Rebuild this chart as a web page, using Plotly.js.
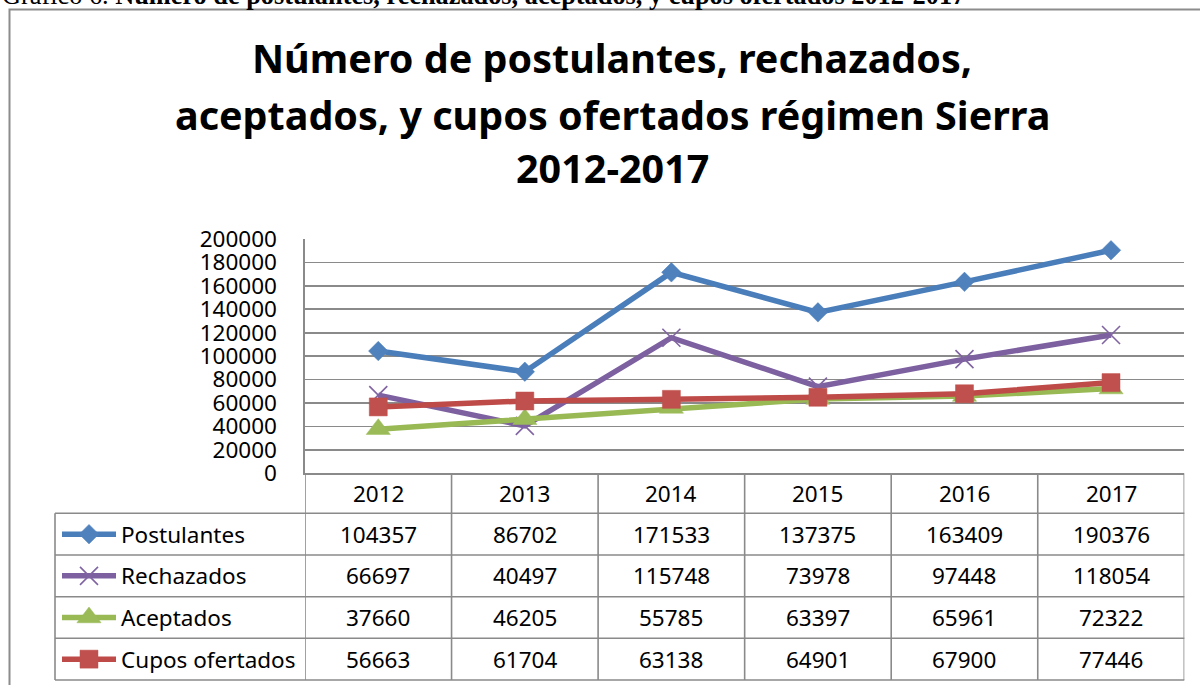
<!DOCTYPE html>
<html>
<head>
<meta charset="utf-8">
<script src="https://cdn.plot.ly/plotly-3.0.1.min.js"></script>
<style>html,body{margin:0;padding:0;background:#fff;}#chart{width:1200px;height:685px;}</style>
</head>
<body>
<div id="chart"></div>
<script>
// ---- data ----
const years = ['2012', '2013', '2014', '2015', '2016', '2017'];
const postulantes = [104357, 86702, 171533, 137375, 163409, 190376];
const rechazados = [66697, 40497, 115748, 73978, 97448, 118054];
const aceptados = [37660, 46205, 55785, 63397, 65961, 72322];
const cupos = [56663, 61704, 63138, 64901, 67900, 77446];
const seriesNames = ['Postulantes', 'Rechazados', 'Aceptados', 'Cupos ofertados'];
const yTicks = [0, 20000, 40000, 60000, 80000, 100000, 120000, 140000, 160000, 180000, 200000];
const titleLines = ['Número de postulantes, rechazados,', 'aceptados, y cupos ofertados régimen Sierra', '2012-2017'];
const captionText = 'Gráfico 6. <b>Número de postulantes, rechazados, aceptados, y cupos ofertados 2012-2017</b>';

// ---- styling / layout constants ----
const W = 1200, H = 685;
const px = x => x / W;
const py = y => 1 - y / H;
const lineColors = ['#4A7EBB', '#7D60A0', '#98B954', '#BE4B48'];
const markerColors = ['#4F81BD', '#8064A2', '#9BBB59', '#C0504D'];
const symbols = ['diamond', 'x-thin-open', 'triangle-up', 'square'];
const msizes = [15, 18, 21, 18];
const gridCol = '#8A8A8A';
const FONT = 'Noto Sans, sans-serif';
const plotL = 305, plotR = 1184.3, plotT = 239, plotB = 473.3;
const rowEdges = [473.3, 513.3, 555, 596.7, 638.3, 680];
const tableL = 55;

const allSeries = [postulantes, rechazados, aceptados, cupos];

const traces = allSeries.map((vals, k) => ({
  type: 'scatter', mode: 'lines+markers', name: seriesNames[k],
  x: years, y: vals, xaxis: 'x', yaxis: 'y', cliponaxis: false,
  line: {color: lineColors[k], width: 5.5},
  marker: {symbol: symbols[k], size: msizes[k], color: markerColors[k],
           line: {color: markerColors[k], width: k === 1 ? 1.6 : 0.5}},
  showlegend: false, hoverinfo: 'x+y+name'
}));

// legend glyphs in the data-table's first column (pixel overlay axes)
allSeries.forEach((vals, k) => {
  const yc = (rowEdges[k + 1] + rowEdges[k + 2]) / 2;
  traces.push({
    type: 'scatter', mode: 'lines', x: [62, 116], y: [yc, yc], xaxis: 'x2', yaxis: 'y2',
    line: {color: lineColors[k], width: 5.5}, showlegend: false, hoverinfo: 'skip'
  });
  traces.push({
    type: 'scatter', mode: 'markers', x: [89], y: [yc], xaxis: 'x2', yaxis: 'y2',
    marker: {symbol: symbols[k], size: msizes[k], color: markerColors[k],
             line: {color: markerColors[k], width: k === 1 ? 1.6 : 0.5}},
    showlegend: false, hoverinfo: 'skip'
  });
});

const shapes = [];
const annotations = [];
const gl = {color: gridCol, width: 1.6};

// outer chart border (left and top visible)
shapes.push({type: 'rect', xref: 'paper', yref: 'paper', x0: px(9.5), x1: px(1215), y0: py(9.5), y1: py(700),
  line: {color: '#8C8C8C', width: 2}, fillcolor: 'rgba(0,0,0,0)'});

// table horizontal lines
rowEdges.forEach((y, i) => {
  if (i === 0) return;
  shapes.push({type: 'line', xref: 'paper', yref: 'paper', x0: px(tableL), x1: px(plotR),
    y0: py(y), y1: py(y), line: gl});
});
// table vertical lines at category boundaries
for (let i = 0; i <= years.length; i++) {
  shapes.push({type: 'line', xref: 'x', yref: 'paper', x0: i - 0.5, x1: i - 0.5,
    y0: py(rowEdges[0]), y1: py(rowEdges[rowEdges.length - 1]), line: gl});
}
// left border of legend column
shapes.push({type: 'line', xref: 'paper', yref: 'paper', x0: px(tableL), x1: px(tableL),
  y0: py(rowEdges[1]), y1: py(rowEdges[rowEdges.length - 1]), line: gl});

const tFont = {family: FONT, size: 22.5, color: '#000'};
// header row: years
years.forEach((yr, i) => {
  annotations.push({xref: 'x', yref: 'paper', x: i, y: py((rowEdges[0] + rowEdges[1]) / 2),
    text: yr, showarrow: false, xanchor: 'center', yanchor: 'middle', font: tFont});
});
// data rows
allSeries.forEach((vals, k) => {
  const yc = (rowEdges[k + 1] + rowEdges[k + 2]) / 2;
  annotations.push({xref: 'paper', yref: 'paper', x: px(119), y: py(yc), text: seriesNames[k],
    showarrow: false, xanchor: 'left', yanchor: 'middle', font: tFont});
  vals.forEach((v, i) => {
    annotations.push({xref: 'x', yref: 'paper', x: i, y: py(yc), text: String(v),
      showarrow: false, xanchor: 'center', yanchor: 'middle', font: tFont});
  });
});

// title lines
const titleBaselines = [75, 131, 184];
titleLines.forEach((t, i) => {
  annotations.push({xref: 'paper', yref: 'paper', x: px(612), y: py(titleBaselines[i] + 12.5),
    text: '<b>' + t + '</b>', showarrow: false, xanchor: 'center', yanchor: 'bottom',
    font: {family: FONT, size: 39.5, color: '#000'}});
});

// caption cut at top
annotations.push({xref: 'paper', yref: 'paper', x: px(0), y: py(12.5), text: captionText,
  showarrow: false, xanchor: 'left', yanchor: 'bottom',
  font: {family: 'Liberation Serif, Times New Roman, serif', size: 26.3, color: '#000'}});

const layout = {
  width: W, height: H, autosize: false,
  margin: {l: 0, r: 0, t: 0, b: 0, pad: 0},
  paper_bgcolor: '#fff', plot_bgcolor: 'rgba(0,0,0,0)',
  showlegend: false,
  xaxis: {type: 'category', domain: [px(plotL), px(plotR)], range: [-0.5, years.length - 0.5],
    showgrid: false, zeroline: false, showline: true, linecolor: gridCol, linewidth: 1.6,
    showticklabels: false, ticks: '', fixedrange: true},
  yaxis: {domain: [py(plotB), py(plotT)], range: [0, 200000], tickvals: yTicks,
    ticktext: yTicks.map(String), showgrid: true, gridcolor: gridCol, gridwidth: 1.6,
    zeroline: false, showline: true, linecolor: gridCol, linewidth: 1.6, ticks: '',
    ticklabelstandoff: 22, tickfont: {family: FONT, size: 22.5, color: '#000'}, fixedrange: true},
  xaxis2: {domain: [0, 1], range: [0, W], visible: false, anchor: 'y2', fixedrange: true},
  yaxis2: {domain: [0, 1], range: [H, 0], visible: false, anchor: 'x2', fixedrange: true},
  shapes: shapes,
  annotations: annotations
};

Plotly.newPlot('chart', traces, layout, {displayModeBar: false, staticPlot: true});
</script>
</body>
</html>
